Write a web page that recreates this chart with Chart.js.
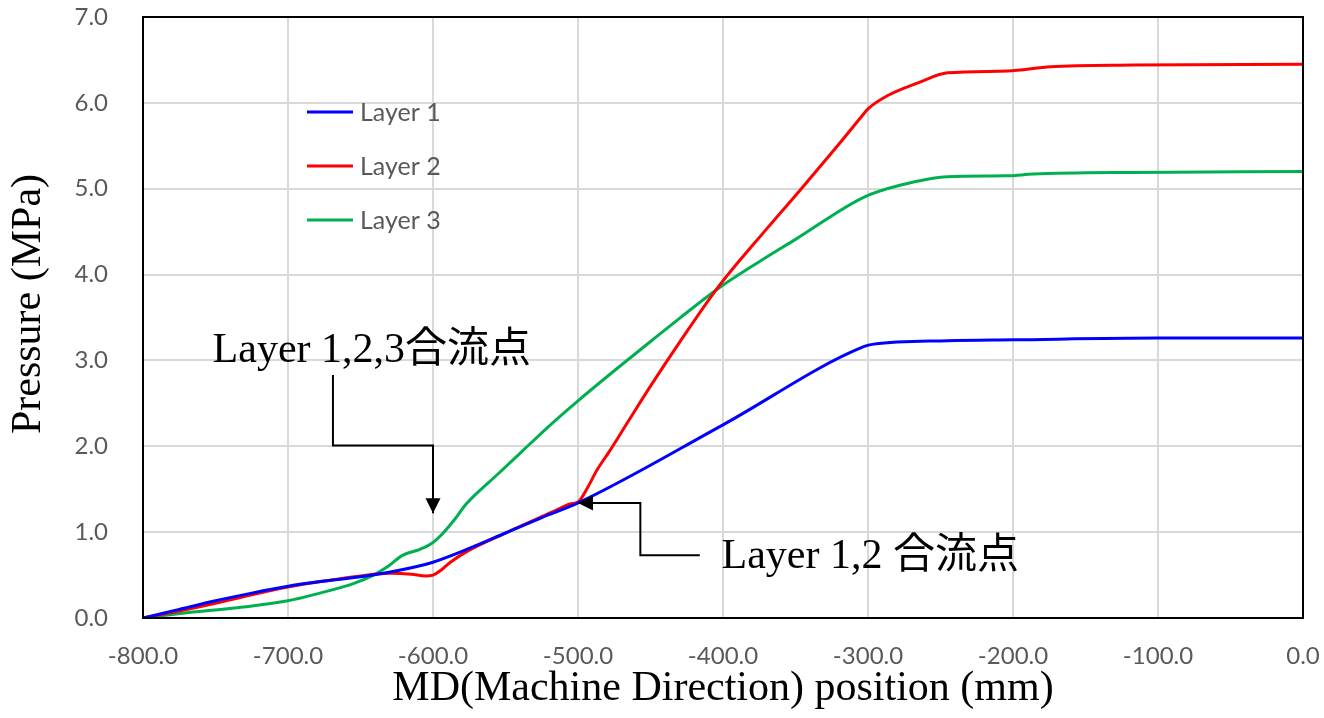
<!DOCTYPE html>
<html>
<head>
<meta charset="utf-8">
<script src="https://cdn.jsdelivr.net/npm/chart.js@4.4.1/dist/chart.umd.min.js"></script>
<style>
  html, body { margin: 0; padding: 0; background: #fff; }
  #chart { display: block; }
</style>
</head>
<body>
<canvas id="chart" width="1324" height="718"></canvas>
<script>
// MD position (mm) and pressure (MPa) per layer
const layer1X = [-800, -775, -750, -725, -700, -675, -650, -625, -600, -575, -550, -525, -500, -400, -303, -296, -245, -200, -100, 0];
const layer1Y = [0, 0.1, 0.2, 0.29, 0.37, 0.43, 0.48, 0.55, 0.65, 0.81, 0.99, 1.17, 1.34, 2.25, 3.16, 3.19, 3.23, 3.24, 3.26, 3.26];

const layer2X = [-800, -775, -750, -725, -700, -675, -650, -630, -615, -605, -600, -595, -588, -575, -550, -525, -512, -505, -500, -494, -487, -478, -465, -450, -430, -404, -369, -347, -320, -305, -300, -287, -266, -245, -204, -174, -117, 0];
const layer2Y = [0, 0.08, 0.17, 0.27, 0.36, 0.43, 0.49, 0.52, 0.51, 0.49, 0.5, 0.55, 0.65, 0.79, 0.99, 1.18, 1.28, 1.33, 1.35, 1.5, 1.72, 1.95, 2.3, 2.7, 3.21, 3.84, 4.55, 4.98, 5.52, 5.83, 5.93, 6.08, 6.23, 6.35, 6.37, 6.42, 6.44, 6.45];

const layer3X = [-800, -770, -735, -700, -678, -655, -641, -632, -621, -609, -600, -593, -585, -577, -555, -538, -519, -500, -475, -450, -430, -404, -375, -350, -303, -278, -245, -204, -186, -117, 0];
const layer3Y = [0, 0.06, 0.12, 0.2, 0.29, 0.4, 0.5, 0.59, 0.73, 0.8, 0.88, 0.99, 1.15, 1.33, 1.68, 1.95, 2.25, 2.53, 2.88, 3.22, 3.49, 3.83, 4.15, 4.41, 4.9, 5.04, 5.14, 5.15, 5.17, 5.19, 5.2];

const seriesLabels = ["Layer 1", "Layer 2", "Layer 3"];
const seriesColors = ["#0000ff", "#ff0000", "#00b050"];

const xTitle = "MD(Machine Direction) position (mm)";
const yTitle = "Pressure (MPa)";

// annotation callouts, in data coordinates
const callouts = [
  { text: "Layer 1,2,3合流点", textAt: [-752, 2.98], path: [[-669, 2.83], [-669, 2.01], [-600, 2.01], [-600, 1.22]] },
  { text: "Layer 1,2 合流点", textAt: [-401, 0.58], path: [[-416, 0.73], [-457, 0.73], [-457, 1.34], [-500, 1.34]] },
];

function toPoints(xs, ys) {
  return xs.map((x, i) => ({ x: x, y: ys[i] }));
}

const tickFont = { family: "Lato", size: 24 };
const serifFont = "42px 'Liberation Serif', 'Noto Sans CJK JP', serif";

// frame, legend, y title and callouts
const extras = {
  id: "extras",
  afterDraw(chart) {
    const c = chart.ctx;
    const area = chart.chartArea;
    const xs = chart.scales.x;
    const ys = chart.scales.y;

    c.save();
    c.strokeStyle = "#000";
    c.lineWidth = 2;
    c.strokeRect(area.left, area.top, area.right - area.left, area.bottom - area.top);

    // legend
    c.font = "25px Lato";
    c.textBaseline = "middle";
    c.textAlign = "left";
    chart.data.datasets.forEach(function (ds, i) {
      const y = area.top + 95 + i * 54;
      const x = area.left + 164;
      c.strokeStyle = ds.borderColor;
      c.lineWidth = 3;
      c.beginPath();
      c.moveTo(x, y);
      c.lineTo(x + 46, y);
      c.stroke();
      c.fillStyle = "#595959";
      c.fillText(ds.label, x + 53, y + 1);
    });

    // y title
    c.fillStyle = "#000";
    c.font = serifFont;
    c.translate(29, 304);
    c.rotate(-Math.PI / 2);
    c.textAlign = "center";
    c.fillText(yTitle, 0, 0);
    c.setTransform(1, 0, 0, 1, 0, 0);

    // callouts
    callouts.forEach(function (co) {
      const pts = co.path.map((p) => [xs.getPixelForValue(p[0]), ys.getPixelForValue(p[1])]);
      c.strokeStyle = "#000";
      c.lineWidth = 2;
      c.beginPath();
      pts.forEach(function (p, i) {
        if (i === 0) c.moveTo(p[0], p[1]);
        else c.lineTo(p[0], p[1]);
      });
      c.stroke();
      // arrow head
      const tip = pts[pts.length - 1];
      const prev = pts[pts.length - 2];
      const ang = Math.atan2(tip[1] - prev[1], tip[0] - prev[0]);
      c.fillStyle = "#000";
      c.beginPath();
      c.moveTo(tip[0], tip[1]);
      c.lineTo(tip[0] - 15 * Math.cos(ang) + 7.5 * Math.sin(ang), tip[1] - 15 * Math.sin(ang) - 7.5 * Math.cos(ang));
      c.lineTo(tip[0] - 15 * Math.cos(ang) - 7.5 * Math.sin(ang), tip[1] - 15 * Math.sin(ang) + 7.5 * Math.cos(ang));
      c.closePath();
      c.fill();

      c.font = serifFont;
      c.textAlign = "left";
      c.textBaseline = "alphabetic";
      c.fillText(co.text, xs.getPixelForValue(co.textAt[0]), ys.getPixelForValue(co.textAt[1]));
    });
    c.restore();
  },
};

document.addEventListener("DOMContentLoaded", function () {
  const ctx = document.getElementById("chart").getContext("2d");
  const layers = [toPoints(layer1X, layer1Y), toPoints(layer2X, layer2Y), toPoints(layer3X, layer3Y)];

  new Chart(ctx, {
    type: "line",
    data: {
      datasets: layers.map(function (pts, i) {
        return {
          label: seriesLabels[i],
          data: pts,
          borderColor: seriesColors[i],
          backgroundColor: seriesColors[i],
          borderWidth: 3,
          pointRadius: 0,
          cubicInterpolationMode: "monotone",
          fill: false,
        };
      }),
    },
    options: {
      responsive: false,
      animation: false,
      devicePixelRatio: 1,
      layout: { padding: { top: 17, right: 21, left: 0, bottom: 0 } },
      plugins: {
        legend: { display: false },
        tooltip: { enabled: false },
      },
      scales: {
        x: {
          type: "linear",
          min: -800,
          max: 0,
          afterFit: function (scale) {
            scale.height = 100;
            scale.paddingLeft = 0;
            scale.paddingRight = 0;
          },
          ticks: {
            stepSize: 100,
            color: "#595959",
            font: tickFont,
            padding: 24,
            maxRotation: 0,
            callback: (v) => v.toFixed(1),
          },
          grid: { color: "#d9d9d9", lineWidth: 2, drawTicks: false },
          border: { display: false },
          title: {
            display: true,
            text: xTitle,
            color: "#000",
            font: { family: "'Liberation Serif', serif", size: 42 },
            padding: { top: 0, bottom: 4 },
          },
        },
        y: {
          min: 0,
          max: 7,
          afterFit: function (scale) {
            scale.width = 143;
            scale.paddingTop = 0;
            scale.paddingBottom = 0;
          },
          ticks: {
            stepSize: 1,
            color: "#595959",
            font: tickFont,
            padding: 35,
            callback: (v) => v.toFixed(1),
          },
          grid: { color: "#d9d9d9", lineWidth: 2, drawTicks: false },
          border: { display: false },
        },
      },
    },
    plugins: [extras],
  });
});
</script>
</body>
</html>
